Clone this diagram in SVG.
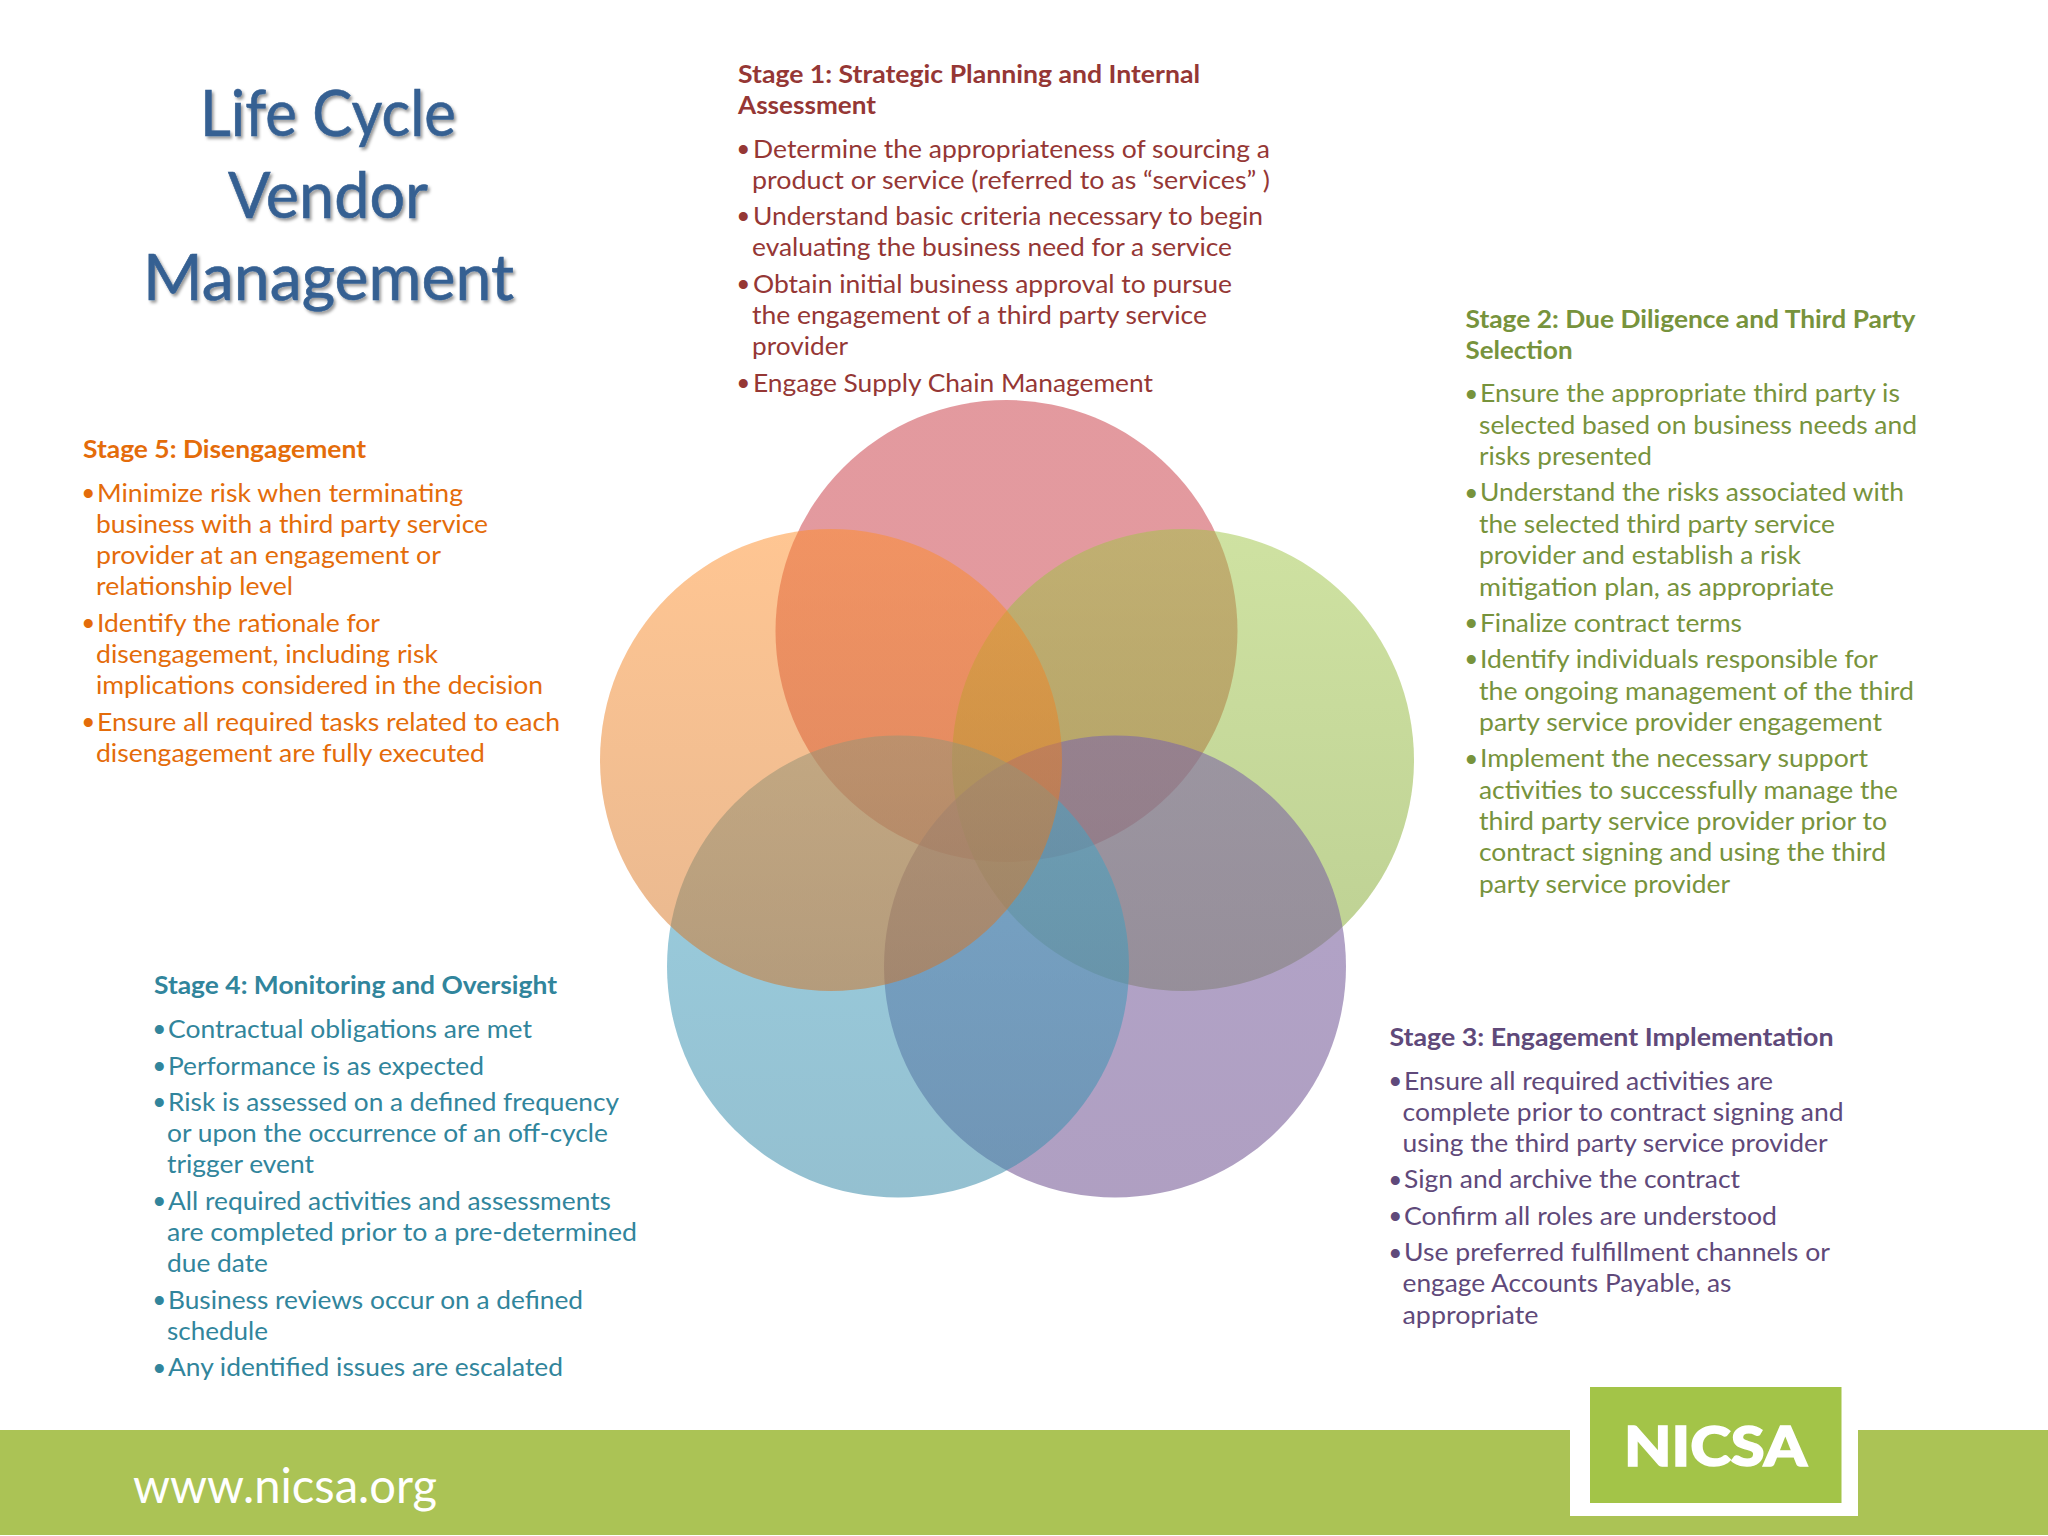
<svg xmlns="http://www.w3.org/2000/svg" width="2048" height="1536" viewBox="0 0 2048 1536">
<style>
text{font-family:Lato,"Liberation Sans",sans-serif;font-size:24.5px}
.h{font-weight:700}
.b{font-family:"Liberation Sans",sans-serif;font-size:33px}
.s1{fill:#953735}.s2{fill:#77933c}.s3{fill:#5f497a}.s4{fill:#31859c}.s5{fill:#e46c0a}
.title{font-size:64px;fill:#366092;stroke:#366092;stroke-width:.6px;filter:url(#sh)}
</style>
<defs>
<filter id="sh" x="-10%" y="-20%" width="120%" height="140%"><feDropShadow dx="2" dy="2.5" stdDeviation="1.5" flood-color="#000" flood-opacity="0.4"/></filter>
<linearGradient id="gr" x1="0" y1="0" x2="0" y2="1"><stop offset="0" stop-color="#c7353f"/><stop offset="1" stop-color="#c7353f"/></linearGradient>
<linearGradient id="gg" x1="0" y1="0" x2="0" y2="1"><stop offset="0" stop-color="#9fc545"/><stop offset="1" stop-color="#7ba127"/></linearGradient>
<linearGradient id="gp" x1="0" y1="0" x2="0" y2="1"><stop offset="0" stop-color="#7f68a5"/><stop offset="1" stop-color="#7a5f99"/></linearGradient>
<linearGradient id="gb" x1="0" y1="0" x2="0" y2="1"><stop offset="0" stop-color="#49a8c7"/><stop offset="1" stop-color="#3c8caa"/></linearGradient>
<linearGradient id="go" x1="0" y1="0" x2="0" y2="1"><stop offset="0" stop-color="#ff8d27"/><stop offset="1" stop-color="#d17121"/></linearGradient>
</defs>
<rect width="2048" height="1536" fill="#fff"/>
<g id="venn">
<circle id="c1" cx="1006.5" cy="631" r="231" fill="url(#gr)" fill-opacity="0.5"/>
<circle id="c2" cx="1183" cy="760" r="231" fill="url(#gg)" fill-opacity="0.5"/>
<circle id="c3" cx="1115" cy="966.5" r="231" fill="url(#gp)" fill-opacity="0.6"/>
<circle id="c4" cx="898" cy="966.5" r="231" fill="url(#gb)" fill-opacity="0.55"/>
<circle id="c5" cx="831" cy="760" r="231" fill="url(#go)" fill-opacity="0.5"/>
</g>
<g id="connectors"/>
<g id="title">
<text class="title" x="200" y="136" textLength="256" lengthAdjust="spacingAndGlyphs">Life Cycle</text>
<text class="title" x="228" y="218" textLength="200" lengthAdjust="spacingAndGlyphs">Vendor</text>
<text class="title" x="143" y="300" textLength="371" lengthAdjust="spacingAndGlyphs">Management</text>
</g>
<g id="stage1" class="s1" transform="translate(0,0.8)">
<text class="h" x="738" y="82" textLength="462" lengthAdjust="spacingAndGlyphs">Stage 1: Strategic Planning and Internal</text>
<text class="h" x="738" y="113.5" textLength="138" lengthAdjust="spacingAndGlyphs">Assessment</text>
<text y="157"><tspan class="b" x="737.5" dy="3.5">•</tspan><tspan x="753" dy="-3.5" textLength="517" lengthAdjust="spacingAndGlyphs">Determine the appropriateness of sourcing a</tspan></text>
<text x="752" y="188" textLength="518" lengthAdjust="spacingAndGlyphs">product or service (referred to as “services” )</text>
<text y="224"><tspan class="b" x="737.5" dy="3.5">•</tspan><tspan x="753" dy="-3.5" textLength="510" lengthAdjust="spacingAndGlyphs">Understand basic criteria necessary to begin</tspan></text>
<text x="752" y="255" textLength="480" lengthAdjust="spacingAndGlyphs">evaluating the business need for a service</text>
<text y="292"><tspan class="b" x="737.5" dy="3.5">•</tspan><tspan x="753" dy="-3.5" textLength="479" lengthAdjust="spacingAndGlyphs">Obtain initial business approval to pursue</tspan></text>
<text x="752" y="323" textLength="455" lengthAdjust="spacingAndGlyphs">the engagement of a third party service</text>
<text x="752" y="354" textLength="96" lengthAdjust="spacingAndGlyphs">provider</text>
<text y="391"><tspan class="b" x="737.5" dy="3.5">•</tspan><tspan x="753" dy="-3.5" textLength="400" lengthAdjust="spacingAndGlyphs">Engage Supply Chain Management</tspan></text>
</g>
<g id="stage2" class="s2" transform="translate(0,0.5)">
<text class="h" x="1465.5" y="327.5" textLength="450" lengthAdjust="spacingAndGlyphs">Stage 2: Due Diligence and Third Party</text>
<text class="h" x="1465.5" y="358.5" textLength="107" lengthAdjust="spacingAndGlyphs">Selection</text>
<text y="401.5"><tspan class="b" x="1465.5" dy="3.5">•</tspan><tspan x="1480" dy="-3.5" textLength="420" lengthAdjust="spacingAndGlyphs">Ensure the appropriate third party is</tspan></text>
<text x="1479" y="433" textLength="438" lengthAdjust="spacingAndGlyphs">selected based on business needs and</text>
<text x="1479" y="464.5" textLength="173" lengthAdjust="spacingAndGlyphs">risks presented</text>
<text y="500.5"><tspan class="b" x="1465.5" dy="3.5">•</tspan><tspan x="1480" dy="-3.5" textLength="424" lengthAdjust="spacingAndGlyphs">Understand the risks associated with</tspan></text>
<text x="1479" y="532" textLength="356" lengthAdjust="spacingAndGlyphs">the selected third party service</text>
<text x="1479" y="563.5" textLength="322" lengthAdjust="spacingAndGlyphs">provider and establish a risk</text>
<text x="1479" y="595" textLength="355" lengthAdjust="spacingAndGlyphs">mitigation plan, as appropriate</text>
<text y="631"><tspan class="b" x="1465.5" dy="3.5">•</tspan><tspan x="1480" dy="-3.5" textLength="262" lengthAdjust="spacingAndGlyphs">Finalize contract terms</tspan></text>
<text y="667"><tspan class="b" x="1465.5" dy="3.5">•</tspan><tspan x="1480" dy="-3.5" textLength="398" lengthAdjust="spacingAndGlyphs">Identify individuals responsible for</tspan></text>
<text x="1479" y="699" textLength="435" lengthAdjust="spacingAndGlyphs">the ongoing management of the third</text>
<text x="1479" y="730" textLength="403" lengthAdjust="spacingAndGlyphs">party service provider engagement</text>
<text y="766.5"><tspan class="b" x="1465.5" dy="3.5">•</tspan><tspan x="1480" dy="-3.5" textLength="388" lengthAdjust="spacingAndGlyphs">Implement the necessary support</tspan></text>
<text x="1479" y="798" textLength="419" lengthAdjust="spacingAndGlyphs">activities to successfully manage the</text>
<text x="1479" y="829" textLength="408" lengthAdjust="spacingAndGlyphs">third party service provider prior to</text>
<text x="1479" y="860.5" textLength="407" lengthAdjust="spacingAndGlyphs">contract signing and using the third</text>
<text x="1479" y="892" textLength="251" lengthAdjust="spacingAndGlyphs">party service provider</text>
</g>
<g id="stage3" class="s3" transform="translate(0,0.8)">
<text class="h" x="1389.5" y="1045" textLength="444" lengthAdjust="spacingAndGlyphs">Stage 3: Engagement Implementation</text>
<text y="1089"><tspan class="b" x="1389.5" dy="3.5">•</tspan><tspan x="1404" dy="-3.5" textLength="369" lengthAdjust="spacingAndGlyphs">Ensure all required activities are</tspan></text>
<text x="1402.5" y="1120" textLength="441" lengthAdjust="spacingAndGlyphs">complete prior to contract signing and</text>
<text x="1402.5" y="1151" textLength="425" lengthAdjust="spacingAndGlyphs">using the third party service provider</text>
<text y="1187.5"><tspan class="b" x="1389.5" dy="3.5">•</tspan><tspan x="1404" dy="-3.5" textLength="336" lengthAdjust="spacingAndGlyphs">Sign and archive the contract</tspan></text>
<text y="1224"><tspan class="b" x="1389.5" dy="3.5">•</tspan><tspan x="1404" dy="-3.5" textLength="373" lengthAdjust="spacingAndGlyphs">Confirm all roles are understood</tspan></text>
<text y="1260.5"><tspan class="b" x="1389.5" dy="3.5">•</tspan><tspan x="1404" dy="-3.5" textLength="426" lengthAdjust="spacingAndGlyphs">Use preferred fulfillment channels or</tspan></text>
<text x="1402.5" y="1291.5" textLength="329" lengthAdjust="spacingAndGlyphs">engage Accounts Payable, as</text>
<text x="1402.5" y="1323" textLength="136" lengthAdjust="spacingAndGlyphs">appropriate</text>
</g>
<g id="stage4" class="s4" transform="translate(0,0.8)">
<text class="h" x="154" y="993" textLength="403" lengthAdjust="spacingAndGlyphs">Stage 4: Monitoring and Oversight</text>
<text y="1037"><tspan class="b" x="153.5" dy="3.5">•</tspan><tspan x="168" dy="-3.5" textLength="364" lengthAdjust="spacingAndGlyphs">Contractual obligations are met</tspan></text>
<text y="1074"><tspan class="b" x="153.5" dy="3.5">•</tspan><tspan x="168" dy="-3.5" textLength="316" lengthAdjust="spacingAndGlyphs">Performance is as expected</tspan></text>
<text y="1110"><tspan class="b" x="153.5" dy="3.5">•</tspan><tspan x="168" dy="-3.5" textLength="451" lengthAdjust="spacingAndGlyphs">Risk is assessed on a defined frequency</tspan></text>
<text x="167" y="1141" textLength="441" lengthAdjust="spacingAndGlyphs">or upon the occurrence of an off-cycle</text>
<text x="167" y="1172" textLength="147" lengthAdjust="spacingAndGlyphs">trigger event</text>
<text y="1209"><tspan class="b" x="153.5" dy="3.5">•</tspan><tspan x="168" dy="-3.5" textLength="443" lengthAdjust="spacingAndGlyphs">All required activities and assessments</tspan></text>
<text x="167" y="1240" textLength="470" lengthAdjust="spacingAndGlyphs">are completed prior to a pre-determined</text>
<text x="167" y="1271.5" textLength="101" lengthAdjust="spacingAndGlyphs">due date</text>
<text y="1308"><tspan class="b" x="153.5" dy="3.5">•</tspan><tspan x="168" dy="-3.5" textLength="415" lengthAdjust="spacingAndGlyphs">Business reviews occur on a defined</tspan></text>
<text x="167" y="1339" textLength="101" lengthAdjust="spacingAndGlyphs">schedule</text>
<text y="1375.5"><tspan class="b" x="153.5" dy="3.5">•</tspan><tspan x="168" dy="-3.5" textLength="395" lengthAdjust="spacingAndGlyphs">Any identified issues are escalated</tspan></text>
</g>
<g id="stage5" class="s5" transform="translate(0,0.8)">
<text class="h" x="83" y="457" textLength="283" lengthAdjust="spacingAndGlyphs">Stage 5: Disengagement</text>
<text y="501"><tspan class="b" x="82.5" dy="3.5">•</tspan><tspan x="97" dy="-3.5" textLength="366" lengthAdjust="spacingAndGlyphs">Minimize risk when terminating</tspan></text>
<text x="96" y="532" textLength="392" lengthAdjust="spacingAndGlyphs">business with a third party service</text>
<text x="96" y="563" textLength="345" lengthAdjust="spacingAndGlyphs">provider at an engagement or</text>
<text x="96" y="594.5" textLength="197" lengthAdjust="spacingAndGlyphs">relationship level</text>
<text y="631"><tspan class="b" x="82.5" dy="3.5">•</tspan><tspan x="97" dy="-3.5" textLength="283" lengthAdjust="spacingAndGlyphs">Identify the rationale for</tspan></text>
<text x="96" y="662" textLength="342" lengthAdjust="spacingAndGlyphs">disengagement, including risk</text>
<text x="96" y="693.5" textLength="447" lengthAdjust="spacingAndGlyphs">implications considered in the decision</text>
<text y="730"><tspan class="b" x="82.5" dy="3.5">•</tspan><tspan x="97" dy="-3.5" textLength="463" lengthAdjust="spacingAndGlyphs">Ensure all required tasks related to each</tspan></text>
<text x="96" y="761" textLength="389" lengthAdjust="spacingAndGlyphs">disengagement are fully executed</text>
</g>
<g id="footer">
<rect y="1430" width="2048" height="105" fill="#abc355"/>
<text x="133" y="1503" fill="#fff" style="font-size:48px" textLength="304" lengthAdjust="spacingAndGlyphs">www.nicsa.org</text>
</g>
<g id="logo">
<rect x="1570" y="1425" width="288" height="91" fill="#fff"/>
<rect x="1590" y="1387" width="251.5" height="116" fill="#a3c448"/>
<text x="1624" y="1466" fill="#fff" stroke="#fff" stroke-width="1.5" style="font-size:56px;font-weight:900" textLength="183" lengthAdjust="spacingAndGlyphs">NICSA</text>
</g>
</svg>
